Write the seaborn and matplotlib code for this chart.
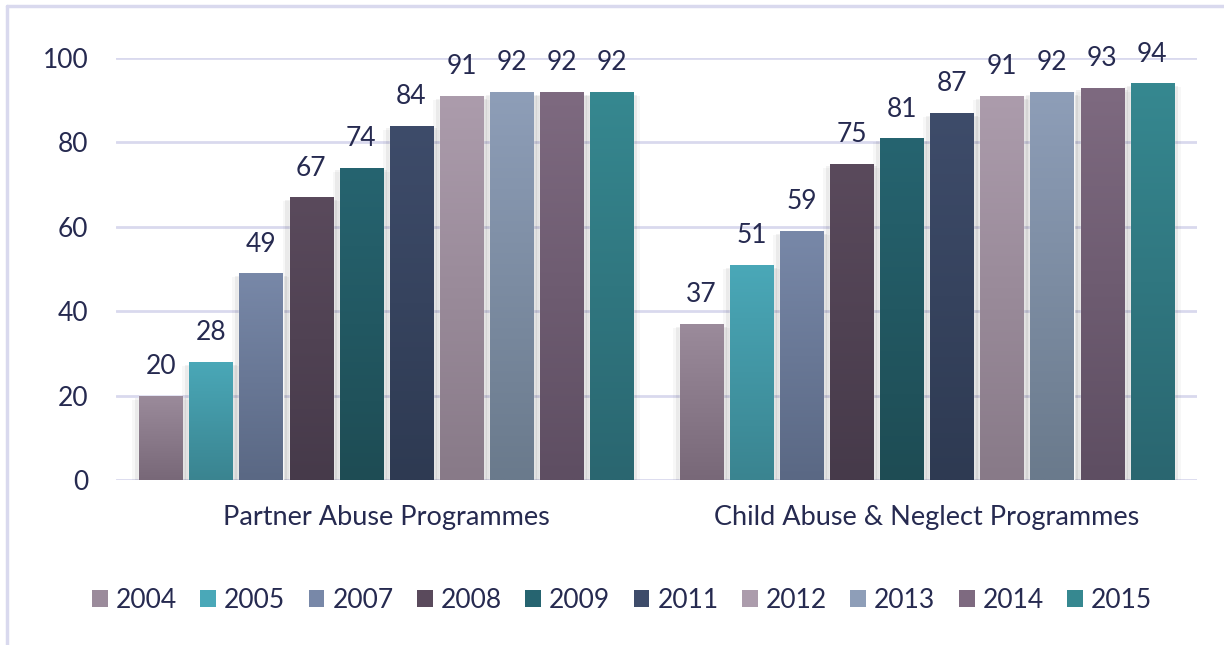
import matplotlib
matplotlib.use("Agg")
import matplotlib.pyplot as plt
import matplotlib.patheffects as pe
from matplotlib.colors import to_rgba
from matplotlib.patches import Patch
from matplotlib.lines import Line2D
import numpy as np
import pandas as pd
import seaborn as sns

programmes = ["Partner Abuse Programmes", "Child Abuse & Neglect Programmes"]
years = ["2004", "2005", "2007", "2008", "2009", "2011", "2012", "2013", "2014", "2015"]
partner_values = [20, 28, 49, 67, 74, 84, 91, 92, 92, 92]
child_values = [37, 51, 59, 75, 81, 87, 91, 92, 93, 94]

# gradient end points for each year's bars (top -> bottom)
top_colors = ["#9b8b9b", "#4aa8b8", "#7888a8", "#5a4a5c", "#266470",
              "#3e4c6a", "#ac9cac", "#8e9eb8", "#7e6a80", "#368890"]
bottom_colors = ["#786878", "#3a8490", "#5a6884", "#463a4a", "#1e4c54",
                 "#2e3a52", "#887a88", "#6a7a8c", "#5e4e62", "#2a6670"]

TEXT = "#262a50"
GRID = "#d9d9ee"

df = pd.DataFrame({
    "programme": [programmes[0]] * len(years) + [programmes[1]] * len(years),
    "year": years * 2,
    "value": partner_values + child_values,
})

sns.set_theme(style="white")
plt.rcParams["font.family"] = ["Lato", "DejaVu Sans"]

fig = plt.figure(figsize=(12.24, 6.45), dpi=100)
ax = fig.add_axes([116 / 1224, 1 - 480 / 645, 1081 / 1224, (480 - 58) / 645])

sns.barplot(data=df, x="programme", y="value", hue="year", hue_order=years,
            palette=top_colors, width=0.927, gap=0.14, ax=ax, legend=False,
            saturation=1, zorder=3)

# soft shadow falling to the sides and below each bar
shadow = [pe.SimplePatchShadow(offset=(3, -2), shadow_rgbFace="black", alpha=0.06),
          pe.SimplePatchShadow(offset=(-3, -2), shadow_rgbFace="black", alpha=0.05),
          pe.SimplePatchShadow(offset=(5, -3), shadow_rgbFace="black", alpha=0.03),
          pe.SimplePatchShadow(offset=(-5, -3), shadow_rgbFace="black", alpha=0.03),
          pe.Normal()]

for i, container in enumerate(ax.containers):
    c_top = np.array(to_rgba(top_colors[i]))
    c_bot = np.array(to_rgba(bottom_colors[i]))
    for bar in container:
        bar.set_path_effects(shadow)
        x, w, h = bar.get_x(), bar.get_width(), bar.get_height()
        t = np.linspace(0, 1, 128)[:, None]
        grad = (c_bot * (1 - t) + c_top * t)[:, None, :]
        im = ax.imshow(grad, extent=[x, x + w, 0, h], origin="lower",
                       aspect="auto", zorder=3.5, interpolation="bilinear")
        im.set_clip_path(bar)
    ax.bar_label(container, labels=[f"{v:g}" for v in container.datavalues],
                 padding=12, fontsize=19, color=TEXT, zorder=5)

ax.set_xlim(-0.5, 1.5)
ax.set_ylim(0, 100)
ax.set_yticks([0, 20, 40, 60, 80, 100])
ax.yaxis.grid(True, color=GRID, linewidth=2, zorder=0)
ax.set_axisbelow(True)
for s in ax.spines.values():
    s.set_visible(False)
ax.tick_params(axis="y", length=0, pad=20, labelsize=19, labelcolor=TEXT)
ax.tick_params(axis="x", length=0, pad=18, labelsize=19.5, labelcolor=TEXT)
ax.set_xlabel("")
ax.set_ylabel("")

handles = [Patch(facecolor=top_colors[i], edgecolor="none") for i in range(len(years))]
fig.legend(handles, years, loc="center", bbox_to_anchor=(622 / 1224, 1 - 600 / 645),
           ncol=len(years), frameon=False, fontsize=19, labelcolor=TEXT,
           handlelength=0.6, handleheight=0.6, handletextpad=0.3,
           columnspacing=0.89, borderaxespad=0)

# outer frame lines on the left and top edges
fig.add_artist(Line2D([7 / 1224, 7 / 1224], [0, 1 - 6 / 645], transform=fig.transFigure,
                      color=GRID, linewidth=2.5))
fig.add_artist(Line2D([7 / 1224, 1], [1 - 6 / 645, 1 - 6 / 645], transform=fig.transFigure,
                      color=GRID, linewidth=2.5))

fig.savefig("out.png", dpi=100)
